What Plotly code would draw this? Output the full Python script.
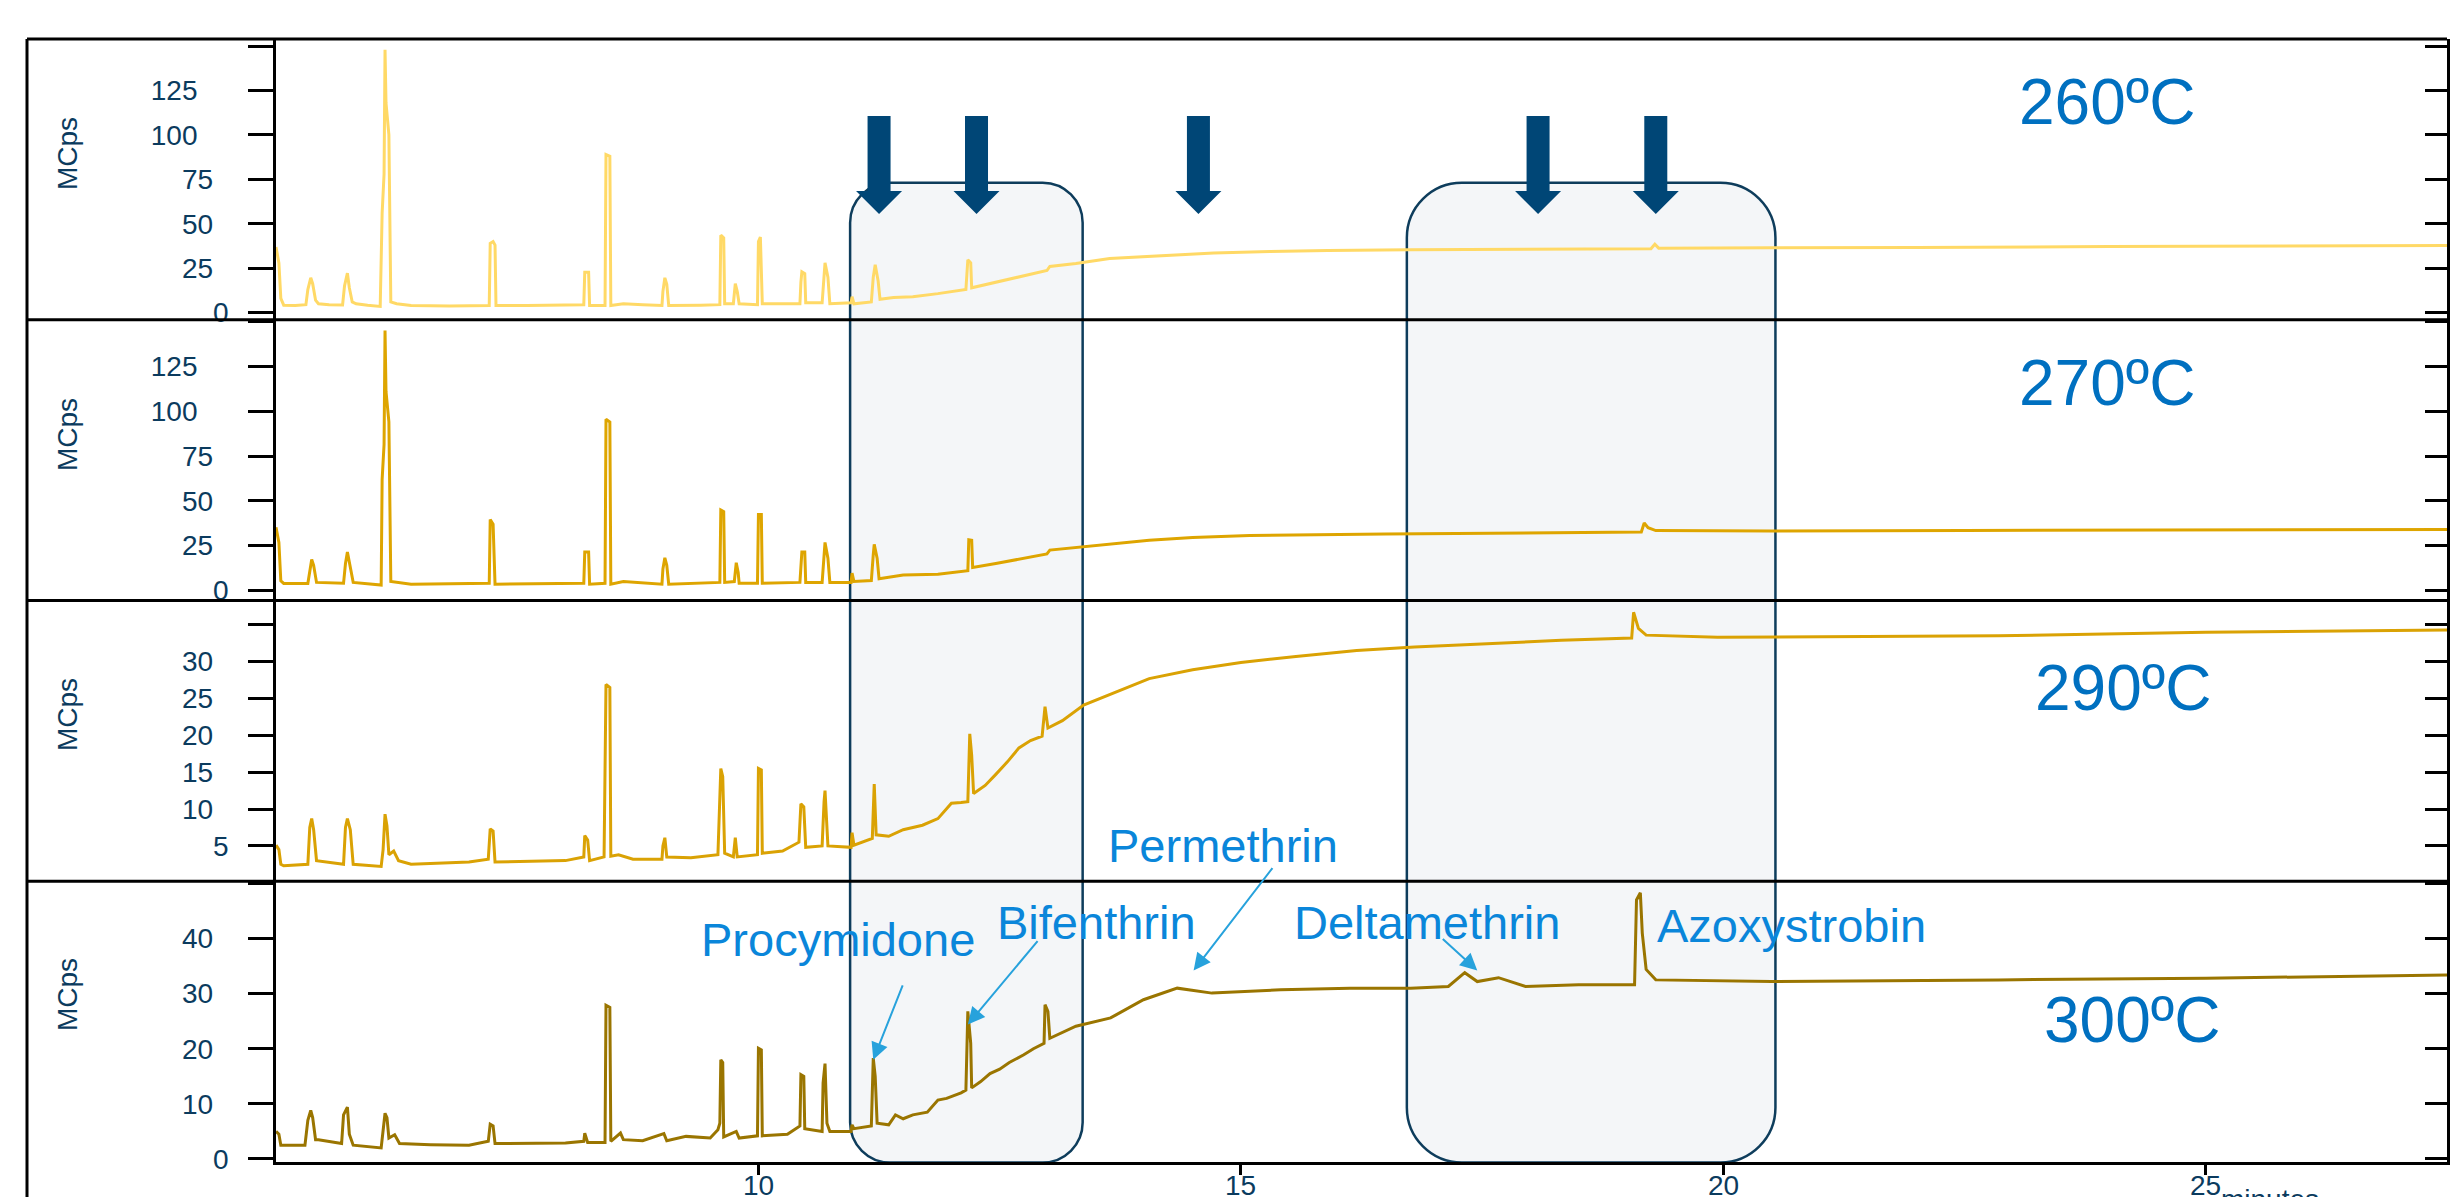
import plotly.graph_objects as go

# ---------------- data ----------------
time_260 = [5.00, 5.03, 5.05, 5.08, 5.20, 5.31, 5.33, 5.36, 5.38, 5.41, 5.44, 5.55, 5.69, 5.71, 5.74, 5.76,
            5.79, 5.83, 5.95, 6.08, 6.10, 6.12, 6.13, 6.14, 6.17, 6.19, 6.25, 6.40, 6.80, 7.21, 7.22, 7.25,
            7.27, 7.28, 7.60, 8.00, 8.19, 8.20, 8.24, 8.25, 8.41, 8.42, 8.46, 8.47, 8.60, 8.80, 9.00, 9.01,
            9.03, 9.05, 9.07, 9.40, 9.60, 9.61, 9.64, 9.65, 9.74, 9.76, 9.78, 9.80, 9.99, 10.00, 10.02, 10.04,
            10.30, 10.43, 10.44, 10.45, 10.48, 10.49, 10.66, 10.68, 10.69, 10.72, 10.74, 10.96, 10.97, 10.99,
            11.17, 11.19, 11.21, 11.24, 11.26, 11.40, 11.60, 11.86, 12.15, 12.17, 12.20, 12.21, 12.45, 12.80,
            12.99, 13.02, 13.29, 13.64, 14.05, 14.72, 15.30, 15.90, 16.74, 17.50, 18.50, 19.25, 19.29, 19.33,
            20.50, 22.00, 24.00, 26.00, 27.50]
mcps_260 = [37, 28, 8, 4.2, 4.0, 4.5, 13, 19.6, 16.3, 7, 5, 4.5, 4.3, 15, 22.2, 14,
            6, 5, 4.2, 3.5, 56, 78, 148, 118, 100, 6, 5, 4, 3.8, 4, 39, 40,
            38, 4, 4, 4.2, 4.5, 22.7, 22.7, 4, 4, 89, 88, 4, 5, 4.5, 4, 12,
            19.6, 16, 4, 4.2, 4.5, 43.6, 42, 5, 5, 16.3, 12, 5, 4.5, 40, 42.5, 5,
            5, 5, 17, 23, 22, 5.5, 5.5, 20, 28, 20, 5, 5.5, 9, 5,
            6, 20, 27, 18, 7.5, 8.5, 9, 10.7, 13, 29.7, 28, 14, 17, 21,
            23.7, 26, 27.6, 30.5, 31.8, 33.6, 34.4, 35.0, 35.4, 35.5, 35.8, 36.0, 38.5, 36.3,
            36.5, 36.6, 37.2, 37.5, 37.8]

time_270 = [5.00, 5.03, 5.05, 5.08, 5.33, 5.35, 5.37, 5.39, 5.42, 5.70, 5.72, 5.74, 5.77, 5.80, 6.09, 6.10,
            6.12, 6.13, 6.14, 6.17, 6.19, 6.25, 6.40, 7.21, 7.22, 7.25, 7.27, 8.19, 8.20, 8.24, 8.25, 8.41,
            8.42, 8.46, 8.47, 8.60, 9.00, 9.01, 9.03, 9.05, 9.07, 9.60, 9.61, 9.64, 9.65, 9.75, 9.77, 9.79,
            9.80, 9.99, 10.00, 10.03, 10.04, 10.43, 10.44, 10.45, 10.48, 10.49, 10.66, 10.68, 10.69, 10.72,
            10.74, 10.96, 10.97, 10.99, 11.17, 11.19, 11.20, 11.23, 11.25, 11.50, 11.86, 12.17, 12.18, 12.21,
            12.22, 12.46, 12.99, 13.02, 13.29, 13.65, 14.05, 14.50, 15.09, 16.50, 18.33, 19.15, 19.18, 19.22,
            19.30, 20.50, 22.50, 25.00, 27.50]
mcps_270 = [35.3, 26.8, 5.4, 3.9, 3.9, 12, 17.3, 14, 4.5, 4, 15, 21.4, 12, 4.5, 3, 62,
            81.5, 145, 111, 94, 5, 4.5, 3.5, 4, 39.6, 37, 3.5, 4, 21.4, 21.4, 3.5, 4,
            95.5, 94, 3.5, 5, 3.5, 12, 18.2, 14, 3.5, 4.5, 44.9, 44, 4.5, 5, 15.5, 10,
            4, 4, 42.4, 42.4, 4, 4.5, 15, 21.4, 21.4, 4.5, 4.5, 18, 26.8, 18,
            4.5, 4.5, 9.7, 5, 5.5, 20, 25.7, 18, 6.5, 8.6, 9.0, 11, 28.3, 28,
            12.8, 15, 20.4, 22.5, 24, 25.7, 28.0, 29.6, 30.7, 31.5, 32.4, 32.6, 37.6, 35,
            33.4, 33.2, 33.5, 33.8, 34.0]

time_290 = [5.00, 5.03, 5.05, 5.08, 5.33, 5.35, 5.37, 5.39, 5.42, 5.70, 5.72, 5.74, 5.77, 5.80, 6.09, 6.11,
            6.13, 6.15, 6.17, 6.22, 6.27, 6.40, 7.00, 7.20, 7.22, 7.25, 7.27, 8.00, 8.19, 8.20, 8.23, 8.25,
            8.40, 8.42, 8.46, 8.47, 8.55, 8.70, 9.00, 9.01, 9.03, 9.05, 9.30, 9.58, 9.61, 9.63, 9.65, 9.74,
            9.76, 9.78, 9.99, 10.00, 10.03, 10.04, 10.25, 10.42, 10.44, 10.47, 10.49, 10.66, 10.68, 10.69,
            10.72, 10.96, 10.97, 10.99, 11.18, 11.20, 11.22, 11.35, 11.50, 11.70, 11.86, 12.00, 12.10, 12.17,
            12.19, 12.21, 12.23, 12.35, 12.46, 12.58, 12.70, 12.82, 12.94, 12.97, 13.00, 13.15, 13.37, 13.65,
            14.05, 14.50, 15.00, 15.57, 16.20, 16.80, 17.50, 18.32, 19.05, 19.07, 19.12, 19.20, 19.94, 22.85,
            25.00, 27.50]
mcps_290 = [5.1, 4.5, 2.5, 2.3, 2.5, 7.5, 8.7, 7.2, 3, 2.5, 7.5, 8.7, 7.2, 2.5, 2.2, 4.5,
            9.3, 7.7, 3.8, 4.3, 3.0, 2.5, 2.8, 3.2, 7.3, 7.0, 2.8, 3.0, 3.5, 6.4, 5.8, 3.0,
            3.5, 26.9, 26.5, 3.6, 3.8, 3.2, 3.2, 5, 6.1, 3.5, 3.4, 3.8, 15.5, 14.4, 4, 3.5,
            6.1, 3.5, 3.8, 15.5, 15.3, 4.0, 4.3, 5.5, 10.7, 10.3, 4.8, 5, 11, 12.5,
            5, 4.8, 6.8, 5.1, 6, 13.4, 6.5, 6.3, 7.2, 7.8, 8.7, 10.8, 10.9, 11,
            20.2, 17.3, 12.1, 13.2, 14.7, 16.4, 18.3, 19.3, 19.9, 23.9, 21, 22, 24.1, 25.6,
            27.7, 28.9, 29.9, 30.7, 31.5, 32.0, 32.4, 32.9, 33.2, 36.7, 34.5, 33.6, 33.3, 33.5,
            34.0, 34.3]

time_300 = [5.00, 5.03, 5.05, 5.30, 5.33, 5.36, 5.38, 5.41, 5.44, 5.68, 5.70, 5.74, 5.76, 5.80, 6.09, 6.11,
            6.13, 6.15, 6.17, 6.23, 6.28, 6.60, 7.00, 7.20, 7.22, 7.25, 7.27, 8.00, 8.19, 8.20, 8.23, 8.41,
            8.42, 8.46, 8.47, 8.57, 8.60, 8.80, 9.02, 9.05, 9.25, 9.50, 9.58, 9.60, 9.61, 9.63, 9.64, 9.77,
            9.80, 9.99, 10.00, 10.03, 10.04, 10.30, 10.43, 10.44, 10.47, 10.48, 10.66, 10.67, 10.69, 10.71,
            10.74, 10.96, 10.97, 10.99, 11.17, 11.19, 11.21, 11.23, 11.35, 11.42, 11.50, 11.60, 11.75, 11.86,
            11.95, 12.10, 12.15, 12.17, 12.20, 12.21, 12.30, 12.40, 12.50, 12.60, 12.75, 12.85, 12.96, 12.97,
            13.00, 13.02, 13.29, 13.65, 13.99, 14.34, 14.70, 15.41, 16.13, 16.76, 17.15, 17.32, 17.45, 17.67,
            17.95, 18.50, 19.08, 19.10, 19.14, 19.16, 19.20, 19.30, 20.50, 22.85, 25.00, 27.50]
mcps_300 = [5.0, 4.5, 2.5, 2.5, 7, 8.8, 7.5, 3.5, 3.5, 2.8, 8, 9.4, 4.5, 2.5, 2.0, 5,
            8.3, 7.5, 3.8, 4.4, 2.8, 2.6, 2.5, 3.2, 6.3, 6.0, 2.8, 2.9, 3.2, 4.7, 3, 3,
            27.9, 27.5, 3.2, 4.7, 3.5, 3.3, 4.6, 3.3, 4.1, 3.8, 5.3, 6.5, 18.0, 17.5, 4, 5.0,
            3.8, 4.2, 20.1, 19.8, 4.2, 4.5, 6, 15.3, 15, 5.5, 5, 13.8, 17.3, 6.5,
            5, 5.0, 6.2, 5.5, 6, 18.3, 15, 6.5, 6.2, 8.0, 7.3, 8.0, 8.5, 10.7,
            11.0, 12.0, 12.5, 26.8, 21.0, 12.9, 14.0, 15.5, 16.3, 17.5, 18.9, 20.0, 21.0, 28,
            26.8, 21.9, 24.1, 25.6, 28.9, 31.0, 30.1, 30.7, 31.0, 31.0, 31.3, 33.8, 32.2, 32.9,
            31.3, 31.6, 31.6, 47, 48.3, 41, 34.4, 32.5, 32.2, 32.5, 32.8, 33.4]

temperature_labels = ["260ºC", "270ºC", "290ºC", "300ºC"]
y_tick_values = [[0, 25, 50, 75, 100, 125, 150],
                 [0, 25, 50, 75, 100, 125, 150],
                 [0, 5, 10, 15, 20, 25, 30, 35],
                 [0, 10, 20, 30, 40, 50]]
y_tick_labels = [["0", "25", "50", "75", "100", "125", ""],
                 ["0", "25", "50", "75", "100", "125", ""],
                 ["", "5", "10", "15", "20", "25", "30", ""],
                 ["0", "10", "20", "30", "40", ""]]
x_tick_values = [10, 15, 20, 25]
x_tick_labels = ["10", "15", "20", "25"]
y_title = "MCps"
x_title = "minutes"

compound_names = ["Procymidone", "Bifenthrin", "Permethrin", "Deltamethrin", "Azoxystrobin"]
compound_arrow_time = [11.19, 12.17, 14.51, 17.45, None]
compound_arrow_mcps = [18.0, 24.4, 34.2, 34.2, None]
marker_arrow_times = [11.25, 12.26, 14.56, 18.08, 19.30]
highlight_windows = [(10.95, 13.36, 40), (16.72, 20.54, 55)]

# ---------------- layout helpers ----------------
W, H = 2451, 1197
ML, MR, MT, MB = 276, 4, 39, 35
PW, PH = W - ML - MR, H - MT - MB
X_RANGE = [5, 27.5]


def px_x(X):
    return (X - ML) / PW


def px_y(Y):
    return (H - MB - Y) / PH


def t_to_paper(t):
    return (t - X_RANGE[0]) / (X_RANGE[1] - X_RANGE[0])


NAVY = "#0B3B5E"
FONT = "Liberation Sans, Arial, sans-serif"
FS = "\u2007"

series = [(time_260, mcps_260, "#FFD966"),
          (time_270, mcps_270, "#DEA500"),
          (time_290, mcps_290, "#DAA204"),
          (time_300, mcps_300, "#9A7500")]
domains = [[0.75, 1.0], [0.5, 0.75], [0.25, 0.5], [0.0, 0.25]]
ranges = [[-4, 154], [-5.6, 151], [0.2, 38.3], [-0.55, 50.4]]

fig = go.Figure()
layout = dict(width=W, height=H, margin=dict(l=ML, r=MR, t=MT, b=MB, pad=0, autoexpand=False),
              paper_bgcolor="white", plot_bgcolor="rgba(0,0,0,0)",
              showlegend=False, hovermode=False, font=dict(family=FONT, color=NAVY))

for i, (tx, ty, col) in enumerate(series):
    n = i + 1
    xa = "x" if n == 1 else f"x{n}"
    ya = "y" if n == 1 else f"y{n}"
    yo = f"y{n + 4}"
    fig.add_trace(go.Scatter(x=tx, y=ty, mode="lines", xaxis=xa, yaxis=ya,
                             line=dict(color=col, width=3), hoverinfo="skip"))
    fig.add_trace(go.Scatter(x=[], y=[], mode="lines", xaxis=xa, yaxis=yo, hoverinfo="skip"))
    xkey = "xaxis" if n == 1 else f"xaxis{n}"
    ykey = "yaxis" if n == 1 else f"yaxis{n}"
    last = (n == 4)
    layout[xkey] = dict(domain=[0, 1], anchor=ya, range=X_RANGE, showgrid=False, zeroline=False,
                        automargin=False,
                        showline=last, linecolor="black", linewidth=3,
                        ticks="outside" if last else "", ticklen=10, tickwidth=2.5, tickcolor="black",
                        tickvals=x_tick_values, showticklabels=False)
    ticktext = [s + FS * max(len(s) - 1, 0) for s in y_tick_labels[i]]
    layout[ykey] = dict(domain=domains[i], anchor=xa, range=ranges[i], showgrid=False, zeroline=False,
                        automargin=False,
                        showline=True, linecolor="black", linewidth=2.5,
                        ticks="outside", ticklen=25, tickwidth=2.5, tickcolor="black",
                        tickvals=y_tick_values[i], ticktext=ticktext,
                        ticklabelstandoff=14,
                        tickfont=dict(size=28, color=NAVY, family=FONT))
    layout[f"yaxis{n + 4}"] = dict(overlaying=ya, anchor=xa, side="right", range=ranges[i],
                                   automargin=False,
                                   showgrid=False, zeroline=False, showline=True, linecolor="black",
                                   linewidth=3, ticks="inside", ticklen=22, tickwidth=2.5,
                                   tickcolor="black", tickvals=y_tick_values[i], showticklabels=False)

shapes = []
# highlight windows (rounded boxes)
box_bottom = px_y(1162.5)
box_h = 1162.5 - 182.7
for (t0, t1, r) in highlight_windows:
    w = (t1 - t0) / (X_RANGE[1] - X_RANGE[0]) * PW
    h = box_h
    k = 0.5523 * r
    path = (f"M {r},0 L {w - r},0 C {w - r + k},0 {w},{r - k} {w},{r} "
            f"L {w},{h - r} C {w},{h - r + k} {w - r + k},{h} {w - r},{h} "
            f"L {r},{h} C {r - k},{h} 0,{h - r + k} 0,{h - r} "
            f"L 0,{r} C 0,{r - k} {r - k},0 {r},0 Z")
    shapes.append(dict(type="path", xref="paper", yref="paper", xsizemode="pixel", ysizemode="pixel",
                       xanchor=t_to_paper(t0), yanchor=box_bottom, path=path,
                       fillcolor="#F4F6F8", line=dict(color="#0E3D5C", width=2.5), layer="below"))

# frame lines
for yb in [1.0, 0.75, 0.5, 0.25]:
    shapes.append(dict(type="line", xref="paper", yref="paper", x0=px_x(27), x1=1.0, y0=yb, y1=yb,
                       line=dict(color="black", width=3), layer="above"))
shapes.append(dict(type="line", xref="paper", yref="paper", x0=px_x(27), x1=px_x(27), y0=1.0,
                   y1=px_y(1210), line=dict(color="black", width=3), layer="above"))

# dark block arrows on top panel
aw_s, aw_h, ah, al = 11.5, 23, 23, 98
arrow_path = (f"M {-aw_s},{al} L {aw_s},{al} L {aw_s},{ah} L {aw_h},{ah} L 0,0 "
              f"L {-aw_h},{ah} L {-aw_s},{ah} Z")
for t in marker_arrow_times:
    shapes.append(dict(type="path", xref="x", yref="paper", xsizemode="pixel", ysizemode="pixel",
                       xanchor=t, yanchor=px_y(214), path=arrow_path,
                       fillcolor="#004676", line=dict(color="#004676", width=0), layer="above"))
layout["shapes"] = shapes

annotations = []
# x tick labels (partly cut by the bottom edge, as in the reference)
for tv, tl in zip(x_tick_values, x_tick_labels):
    annotations.append(dict(xref="x4", yref="paper", x=tv, y=px_y(1169), text=tl,
                            showarrow=False, xanchor="center", yanchor="top", borderpad=0,
                            font=dict(size=28, color=NAVY, family=FONT)))
# MCps titles
for Y in [154, 435, 715, 995]:
    annotations.append(dict(xref="paper", yref="paper", x=px_x(67), y=px_y(Y), text=y_title,
                            showarrow=False, textangle=-90, xanchor="center", yanchor="middle",
                            font=dict(size=28, color=NAVY, family=FONT)))
# temperature labels
for lab, (X, Y) in zip(temperature_labels, [(2017, 102), (2017, 383), (2033, 688), (2042, 1020)]):
    annotations.append(dict(xref="paper", yref="paper", x=px_x(X), y=px_y(Y), text=lab,
                            showarrow=False, xanchor="left", yanchor="middle",
                            font=dict(size=64, color="#0070C0", family=FONT)))
# compound labels
label_pos = [(838, 939), (1096, 922), (1223, 845), (1427, 922), (1791, 925)]
for name, (X, Y) in zip(compound_names, label_pos):
    annotations.append(dict(xref="paper", yref="paper", x=px_x(X), y=px_y(Y), text=name,
                            showarrow=False, xanchor="center", yanchor="middle",
                            font=dict(size=47, color="#0A86DA", family=FONT)))
# compound arrows
tail_offsets = [(30, -76), (71, -85), (80, -104), (-36, -33), None]
for tt, vv, off in zip(compound_arrow_time, compound_arrow_mcps, tail_offsets):
    if tt is None:
        continue
    annotations.append(dict(xref="x4", yref="y4", x=tt, y=vv, ax=off[0], ay=off[1], text="",
                            showarrow=True, arrowhead=2, arrowsize=1.7, arrowwidth=2,
                            arrowcolor="#27A2DC"))
# x axis title (mostly cut off at the bottom, as in the reference)
annotations.append(dict(xref="paper", yref="paper", x=px_x(2220), y=px_y(1183), text=x_title,
                        showarrow=False, xanchor="left", yanchor="top", borderpad=0,
                        font=dict(size=28, color=NAVY, family=FONT)))
layout["annotations"] = annotations

fig.update_layout(**layout)
fig.write_html("out.html", config={"displayModeBar": False},
               post_script="document.body.style.margin='0px';document.body.style.overflow='hidden';")
